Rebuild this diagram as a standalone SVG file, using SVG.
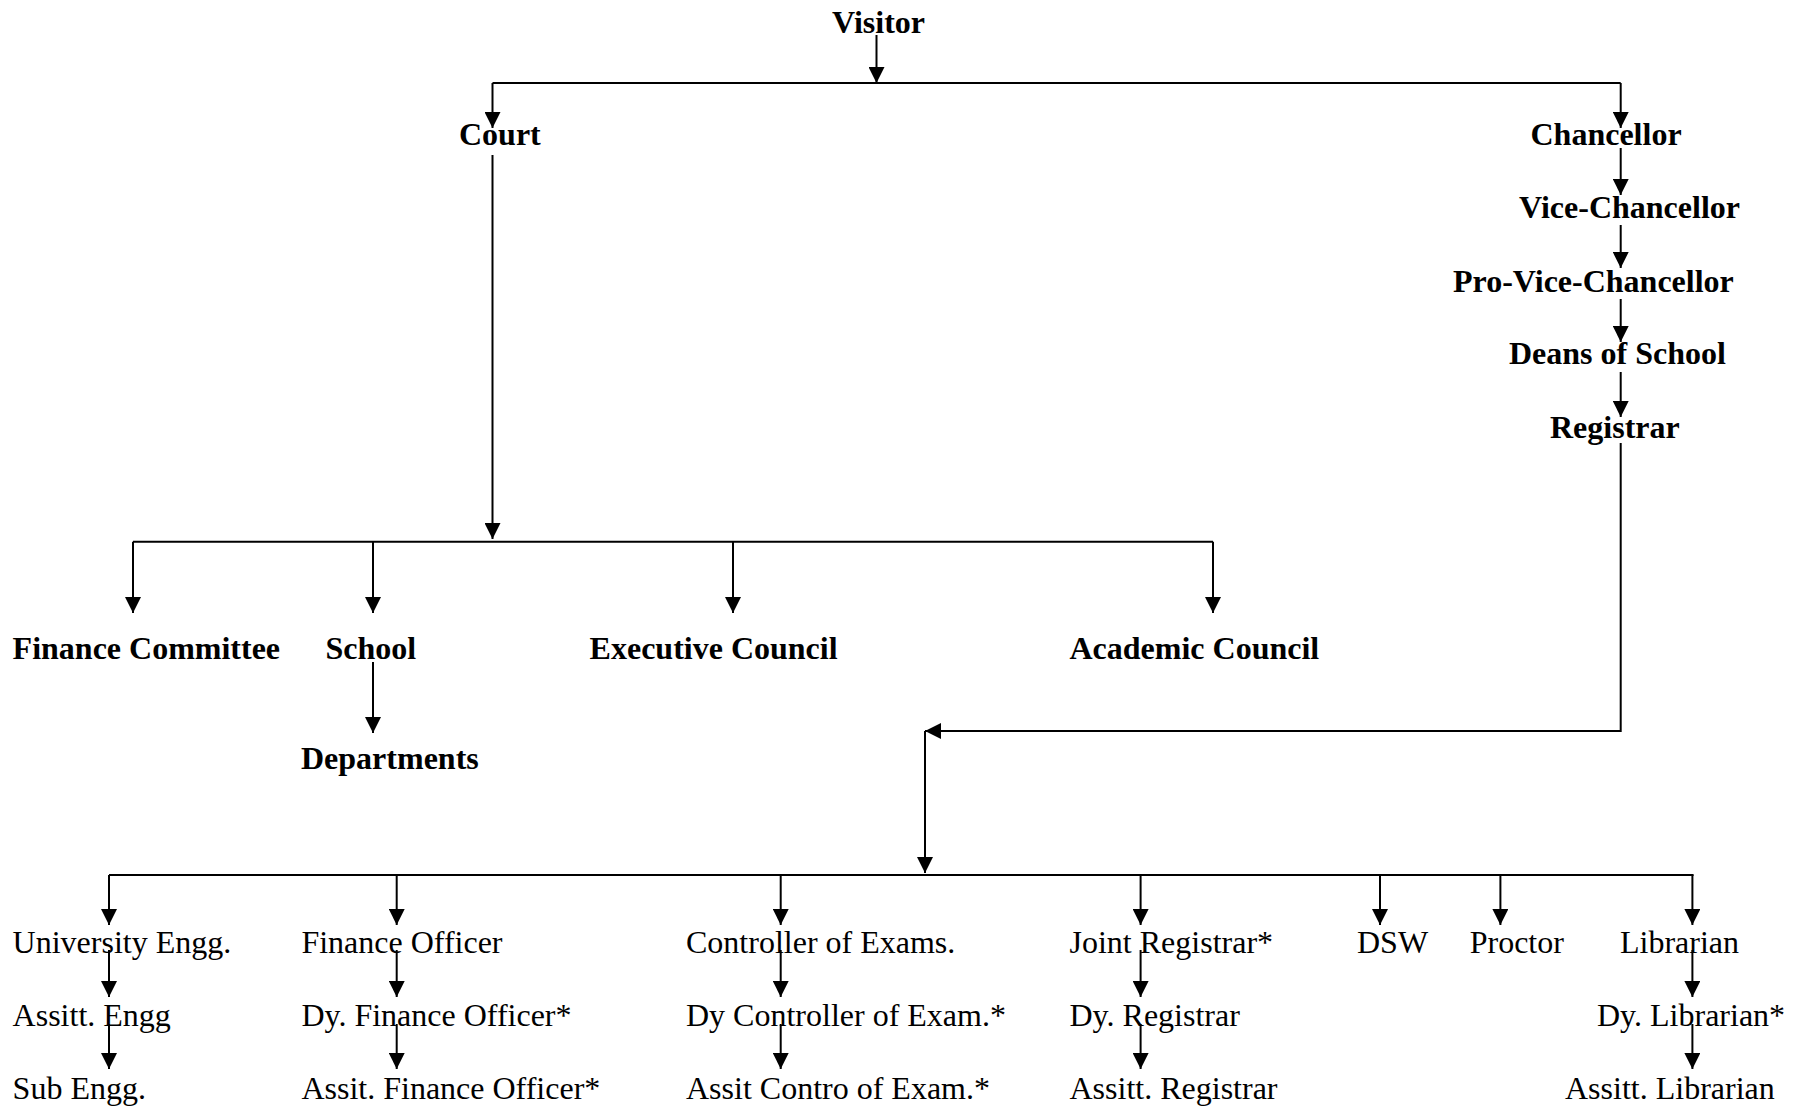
<svg xmlns="http://www.w3.org/2000/svg" width="1807" height="1107" viewBox="0 0 1807 1107">
<style>
.b{font-family:"Liberation Serif","Times New Roman",serif;font-weight:bold;font-size:32px;fill:#000}
.r{font-family:"Liberation Serif","Times New Roman",serif;font-size:32px;fill:#000}
.c{fill:none;stroke:#000;stroke-width:2}
.a{marker-end:url(#ah)}
</style>
<defs>
<marker id="ah" markerUnits="userSpaceOnUse" markerWidth="16" markerHeight="16" refX="16" refY="8" orient="auto" viewBox="0 0 16 16">
<path d="M0,0 L16,8 L0,16 z" fill="#000"/>
</marker>
</defs>
<rect width="1807" height="1107" fill="#fff"/>
<g id="connectors">
<path class="c a" d="M876.5,35 V83"/>
<path class="c" d="M492.5,83 H1620.7" stroke-width="2.5"/>
<path class="c a" d="M492.5,83 V128"/>
<path class="c a" d="M1620.7,83 V128"/>
<path class="c a" d="M1620.7,148 V195"/>
<path class="c a" d="M1620.7,225 V268"/>
<path class="c a" d="M1620.7,299 V342"/>
<path class="c a" d="M1620.7,372 V417"/>
<path class="c a" d="M492.5,155 V539"/>
<path class="c" d="M133,541.7 H1213" stroke-width="2.5"/>
<path class="c a" d="M133,541.7 V613"/>
<path class="c a" d="M373,541.7 V613"/>
<path class="c a" d="M733,541.7 V613"/>
<path class="c a" d="M1213,541.7 V613"/>
<path class="c a" d="M373,662 V733"/>
<path class="c a" d="M1620.7,443 V731 H925"/>
<path class="c a" d="M925,731 V873"/>
<path class="c" d="M109,875 H1693.6" stroke-width="2.5"/>
<path class="c a" d="M109,875 V925"/>
<path class="c a" d="M396.7,875 V925"/>
<path class="c a" d="M780.7,875 V925"/>
<path class="c a" d="M1140.6,875 V925"/>
<path class="c a" d="M1380,875 V925"/>
<path class="c a" d="M1500.4,875 V925"/>
<path class="c a" d="M1692.4,875 V925"/>
<path class="c a" d="M109,950 V997"/>
<path class="c a" d="M396.7,950 V997"/>
<path class="c a" d="M780.7,950 V997"/>
<path class="c a" d="M1140.6,950 V997"/>
<path class="c a" d="M1692.4,950 V997"/>
<path class="c a" d="M109,1024 V1069"/>
<path class="c a" d="M396.7,1024 V1069"/>
<path class="c a" d="M780.7,1024 V1069"/>
<path class="c a" d="M1140.6,1024 V1069"/>
<path class="c a" d="M1692.4,1024 V1069"/>
</g>
<g id="visitor"><text class="b" x="832" y="33">Visitor</text></g>
<g id="court"><text class="b" x="459" y="145">Court</text></g>
<g id="chancellor"><text class="b" x="1530.5" y="145">Chancellor</text></g>
<g id="vice-chancellor"><text class="b" x="1519" y="218">Vice-Chancellor</text></g>
<g id="pro-vice-chancellor"><text class="b" x="1453" y="292">Pro-Vice-Chancellor</text></g>
<g id="deans"><text class="b" x="1509" y="364">Deans of School</text></g>
<g id="registrar"><text class="b" x="1550" y="438">Registrar</text></g>
<g id="finance-committee"><text class="b" x="12.6" y="659">Finance Committee</text></g>
<g id="school"><text class="b" x="325.5" y="659">School</text></g>
<g id="executive-council"><text class="b" x="589.6" y="659">Executive Council</text></g>
<g id="academic-council"><text class="b" x="1069.5" y="659">Academic Council</text></g>
<g id="departments"><text class="b" x="301" y="769">Departments</text></g>
<g id="university-engg"><text class="r" x="12.6" y="953">University Engg.</text></g>
<g id="assitt-engg"><text class="r" x="12.6" y="1026">Assitt. Engg</text></g>
<g id="sub-engg"><text class="r" x="12.6" y="1099">Sub Engg.</text></g>
<g id="finance-officer"><text class="r" x="301.4" y="953">Finance Officer</text></g>
<g id="dy-finance-officer"><text class="r" x="301.4" y="1026">Dy. Finance Officer*</text></g>
<g id="assit-finance-officer"><text class="r" x="301.4" y="1099">Assit. Finance Officer*</text></g>
<g id="controller"><text class="r" x="686" y="953">Controller of Exams.</text></g>
<g id="dy-controller"><text class="r" x="686" y="1026">Dy Controller of Exam.*</text></g>
<g id="assit-controller"><text class="r" x="686" y="1099">Assit Contro of Exam.*</text></g>
<g id="joint-registrar"><text class="r" x="1069.5" y="953">Joint Registrar*</text></g>
<g id="dy-registrar"><text class="r" x="1069.5" y="1026">Dy. Registrar</text></g>
<g id="assitt-registrar"><text class="r" x="1069.5" y="1099">Assitt. Registrar</text></g>
<g id="dsw"><text class="r" x="1357" y="953">DSW</text></g>
<g id="proctor"><text class="r" x="1469.7" y="953">Proctor</text></g>
<g id="librarian"><text class="r" x="1620" y="953">Librarian</text></g>
<g id="dy-librarian"><text class="r" x="1597" y="1026">Dy. Librarian*</text></g>
<g id="assitt-librarian"><text class="r" x="1565" y="1099">Assitt. Librarian</text></g>
</svg>
